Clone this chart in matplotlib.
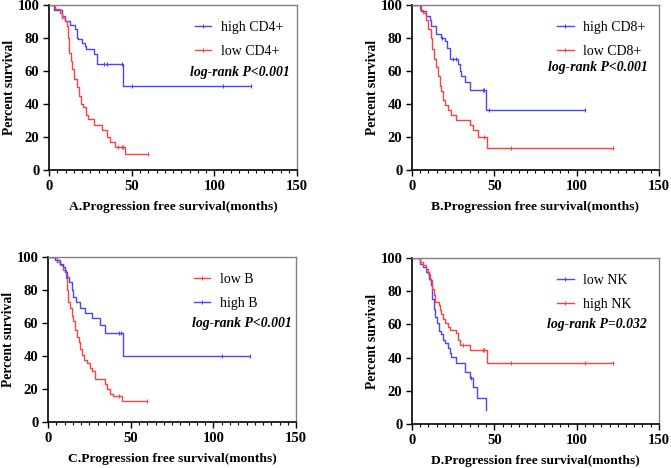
import matplotlib.pyplot as plt
from matplotlib.lines import Line2D
from matplotlib.ticker import MultipleLocator

plt.rcParams['font.family'] = ['Liberation Serif', 'DejaVu Serif']

BLUE = '#4747ff'
RED = '#ff4040'

# Kaplan-Meier step data: (months, percent surviving)
# A: CD4+
a_high_t = [0, 3.2, 7.7, 9.7, 12.7, 15.7, 16.7, 17.7, 19.8, 21.8, 22.2, 27.2, 28.8, 45.0, 122]
a_high_s = [100, 97, 93, 90, 88, 85, 80, 79, 77, 75, 73, 70, 64, 51, 51]
a_high_c = [33, 35, 44, 50, 105, 122]
a_low_t = [0, 3.6, 6.7, 7.7, 9.7, 10.7, 11.7, 12.1, 13.1, 14.1, 15.3, 17.1, 18.3, 19.4, 20.4,
           22.2, 23.8, 27.2, 32.3, 34.9, 36.9, 39.9, 46.0, 60]
a_low_s = [100, 97.4, 95, 92, 90, 87, 80, 71, 66, 61, 55, 50, 45, 40, 38,
           33, 31, 27, 24, 20, 17, 14, 9.7, 9.7]
a_low_c = [42, 44, 45, 60]

# B: CD8+
b_high_t = [0, 5.7, 8.7, 10.7, 11.7, 14.8, 17.8, 19.8, 21.5, 22.9, 27.9, 28.9, 30.0, 32.4, 35.0, 45.1, 105]
b_high_s = [100, 96, 93, 91, 87, 82, 80, 78, 74, 67, 64, 60, 57, 53, 48.5, 36.4, 36.4]
b_high_c = [18, 25, 27, 43, 44, 47, 105]
b_low_t = [0, 4.7, 6.7, 8.7, 10.0, 11.7, 12.1, 13.4, 14.8, 15.8, 16.8, 17.8, 18.8, 19.8, 21.9,
           23.9, 26.9, 35.0, 37.0, 40.0, 45.7, 122]
b_low_s = [100, 97, 95, 91, 85, 80, 73, 67, 62, 57, 50.5, 47.5, 42.5, 39, 36,
           33, 30, 27, 24, 20, 13, 13]
b_low_c = [44, 60, 122]

# C: B cells
c_high_t = [0, 4.2, 7.3, 9.3, 10.3, 11.3, 12.7, 14.3, 15.3, 16.7, 19.4, 22.4, 26.4, 31.5, 34.5, 45.6, 122]
c_high_s = [100, 98, 96, 94, 91, 88, 85, 80, 76, 73, 69, 66, 63, 59, 54, 40, 40]
c_high_c = [43, 44, 105, 122]
c_low_t = [0, 5.2, 7.3, 9.3, 10.7, 11.3, 12.3, 13.3, 14.3, 15.3, 16.3, 17.3, 18.8, 19.4, 20.4,
           22.0, 23.4, 25.4, 26.8, 28.4, 34.5, 35.5, 37.5, 39.5, 45.0, 60]
c_low_s = [100, 97, 95, 92, 87, 80, 73, 69, 64, 61, 56, 51.5, 48.5, 44.5, 40.5,
           37.5, 35.5, 33, 31, 26, 23, 20, 17, 16, 12.5, 12.5]
c_low_c = [43, 60]

# D: NK cells
d_low_t = [0, 4.7, 6.7, 8.7, 10.1, 11.3, 12.1, 13.4, 14.2, 15.4, 16.4, 17.8, 18.8, 20.2, 21.9,
           22.9, 23.9, 26.9, 32.0, 35.0, 37.0, 39.7, 45.0]
d_low_s = [100, 96.6, 94.6, 91.5, 87.5, 83.5, 75.5, 69.5, 64.5, 60.5, 56, 54, 50.5, 48.5, 45.5,
           42.5, 40.5, 36.5, 31.5, 27.5, 22.5, 15.5, 8.5]
d_high_t = [0, 4.7, 6.7, 8.7, 9.7, 10.7, 12.1, 13.4, 14.2, 16.2, 16.8, 17.8, 18.8, 19.8, 21.9,
            22.9, 26.9, 27.9, 28.9, 35.0, 45.7, 122]
d_high_s = [100, 97.6, 95.6, 93.6, 90.5, 86.5, 81.5, 77.5, 73.5, 71.5, 68.5, 66.5, 63.5, 60.5, 58.5,
            56.5, 54.5, 50.5, 47.5, 44.5, 36.7, 36.7]
d_high_c = [31, 43, 44, 60, 105, 122]
d_low_c = [36]


def surv_at(t, times, surv):
    v = surv[0]
    for ti, si in zip(times, surv):
        if ti <= t:
            v = si
    return v


def km(ax, times, surv, cens, color):
    ax.step(times, surv, where='post', color=color, lw=1.0)
    ax.plot(cens, [surv_at(c, times, surv) for c in cens], '|', color=color, ms=3, mew=0.8)
    return Line2D([], [], color=color, lw=1.0, marker='|', ms=3, mew=0.8)


fig = plt.figure(figsize=(6.71, 4.68), dpi=100)
boxes = [[0.073, 0.637, 0.370, 0.353], [0.614, 0.637, 0.368, 0.353],
         [0.0715, 0.098, 0.370, 0.353], [0.614, 0.094, 0.368, 0.355]]
panels = [
    ('A', [(a_high_t, a_high_s, a_high_c, BLUE, 'high CD4+'), (a_low_t, a_low_s, a_low_c, RED, 'low CD4+')],
     'log-rank P<0.001', (0.97, 0.59)),
    ('B', [(b_high_t, b_high_s, b_high_c, BLUE, 'high CD8+'), (b_low_t, b_low_s, b_low_c, RED, 'low CD8+')],
     'log-rank P<0.001', (0.955, 0.62)),
    ('C', [(c_low_t, c_low_s, c_low_c, RED, 'low B'), (c_high_t, c_high_s, c_high_c, BLUE, 'high B')],
     'log-rank P<0.001', (0.98, 0.60)),
    ('D', [(d_low_t, d_low_s, d_low_c, BLUE, 'low NK'), (d_high_t, d_high_s, d_high_c, RED, 'high NK')],
     'log-rank P=0.032', (0.95, 0.60)),
]

for box, (letter, curves, ptxt, ppos) in zip(boxes, panels):
    ax = fig.add_axes(box)
    handles, labels = [], []
    for t, s, c, col, lab in curves:
        handles.append(km(ax, t, s, c, col))
        labels.append(lab)
    ax.set_xlim(0, 150)
    ax.set_ylim(0, 100)
    ax.xaxis.set_major_locator(MultipleLocator(50))
    ax.xaxis.set_minor_locator(MultipleLocator(5))
    ax.yaxis.set_major_locator(MultipleLocator(20))
    ax.tick_params(which='major', length=4, width=1, labelsize=10.5, pad=3)
    ax.tick_params(which='minor', length=2.5, width=0.8)
    for lbl in ax.get_xticklabels() + ax.get_yticklabels():
        lbl.set_fontweight('bold')
    for side in ['left', 'bottom']:
        ax.spines[side].set_linewidth(1.2)
    for side in ['top', 'right']:
        ax.spines[side].set_color('#808080')
        ax.spines[side].set_linewidth(1.0)
    ax.set_ylabel('Percent survival', fontsize=9.8, fontweight='bold', labelpad=1)
    ax.set_xlabel(letter + '.Progression free survival(months)', fontsize=9.7, fontweight='bold', labelpad=6)
    ax.legend(handles, labels, loc='upper left', bbox_to_anchor=(0.565, 0.935), frameon=False, fontsize=10,
              handlelength=1.2, labelspacing=0.78, borderaxespad=0, handletextpad=0.7)
    ax.text(ppos[0], ppos[1], ptxt, transform=ax.transAxes, ha='right', va='center',
            fontsize=9.9, fontweight='bold', fontstyle='italic')

fig.savefig('out.png', dpi=100)
